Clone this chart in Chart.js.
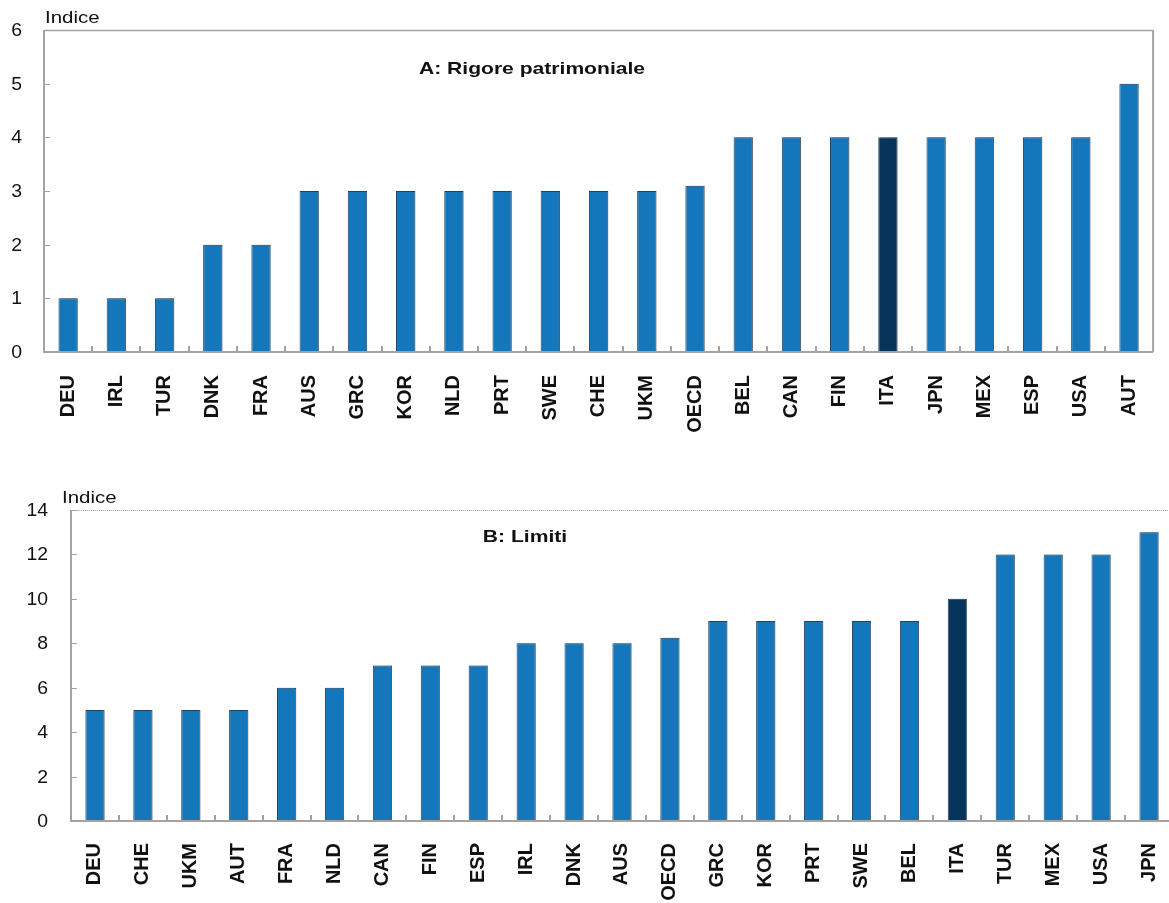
<!DOCTYPE html>
<html>
<head>
<meta charset="utf-8">
<script src="https://cdn.jsdelivr.net/npm/chart.js@4/dist/chart.umd.min.js"></script>
<style>
  html, body { margin: 0; padding: 0; background: #fff; overflow: hidden; }
  canvas { position: absolute; left: 0; }
  #chartA { top: 0; }
  #chartB { top: 470px; }
</style>
</head>
<body>
<canvas id="chartA" width="1168" height="440"></canvas>
<canvas id="chartB" width="1187" height="433"></canvas>
<script>
// Panel A: asset test strictness
const countriesA = ["DEU", "IRL", "TUR", "DNK", "FRA", "AUS", "GRC", "KOR", "NLD", "PRT", "SWE", "CHE",
  "UKM", "OECD", "BEL", "CAN", "FIN", "ITA", "JPN", "MEX", "ESP", "USA", "AUT"];
const valuesA = [1, 1, 1, 2, 2, 3, 3, 3, 3, 3, 3, 3, 3, 3.1, 4, 4, 4, 4, 4, 4, 4, 4, 5];
const ticksA = [0, 1, 2, 3, 4, 5, 6];

// Panel B: limits
const countriesB = ["DEU", "CHE", "UKM", "AUT", "FRA", "NLD", "CAN", "FIN", "ESP", "IRL", "DNK", "AUS",
  "OECD", "GRC", "KOR", "PRT", "SWE", "BEL", "ITA", "TUR", "MEX", "USA", "JPN"];
const valuesB = [5, 5, 5, 5, 6, 6, 7, 7, 7, 8, 8, 8, 8.25, 9, 9, 9, 9, 9, 10, 12, 12, 12, 13];
const ticksB = [0, 2, 4, 6, 8, 10, 12, 14];

const HIGHLIGHT = "ITA";
const BLUE = "#1477bb";
const DARK = "#07345a";
const AXIS = "#a3a3a3";
const FONT = "'Liberation Sans', Arial, Helvetica, sans-serif";

// text drawn a little wider than the font's natural width
function wideText(ctx, text, x, y, align, sx) {
  ctx.save();
  ctx.translate(x, y);
  ctx.scale(sx, 1);
  ctx.textAlign = align;
  ctx.fillText(text, 0, 0);
  ctx.restore();
}

// frame, inner tick marks, y labels, unit label and panel title
const framePlugin = {
  id: "frame",
  beforeDatasetsDraw(chart) {
    const ctx = chart.ctx;
    ctx.save();
    ctx.shadowColor = "rgba(120,120,120,0.55)";
    ctx.shadowOffsetX = 2;
    ctx.shadowOffsetY = 0;
    ctx.shadowBlur = 0;
  },
  afterDatasetsDraw(chart, _args, opts) {
    const { ctx, chartArea: a, scales: { x, y } } = chart;
    ctx.restore();
    ctx.save();
    ctx.strokeStyle = AXIS;

    // top border
    ctx.lineWidth = opts.dottedTop ? 1 : 1.5;
    if (opts.dottedTop) ctx.setLineDash([1, 1]);
    ctx.beginPath();
    ctx.moveTo(a.left, a.top + 0.5);
    ctx.lineTo(opts.dottedTop ? chart.width : a.right, a.top + 0.5);
    ctx.stroke();
    ctx.setLineDash([]);

    if (opts.rightBorder) {
      ctx.lineWidth = 2;
      ctx.beginPath();
      ctx.moveTo(a.right, a.top);
      ctx.lineTo(a.right, a.bottom);
      ctx.stroke();
    }

    // y tick marks pointing inward, with their labels
    ctx.lineWidth = 1;
    ctx.fillStyle = "#111";
    ctx.font = "18.5px " + FONT;
    ctx.textBaseline = "middle";
    for (const t of y.ticks) {
      const py = Math.round(y.getPixelForValue(t.value)) + 0.5;
      ctx.beginPath();
      ctx.moveTo(a.left, py);
      ctx.lineTo(a.left + 6, py);
      ctx.stroke();
      wideText(ctx, String(t.value), a.left - opts.labelGap, py, "right", 1.05);
    }

    // x tick marks between categories
    ctx.lineWidth = 2;
    const half = (x.getPixelForValue(1) - x.getPixelForValue(0)) / 2;
    for (let i = 1; i < x.ticks.length; i++) {
      const px = Math.round(x.getPixelForValue(i) - half);
      ctx.beginPath();
      ctx.moveTo(px, a.bottom);
      ctx.lineTo(px, a.bottom - 6);
      ctx.stroke();
    }

    // axis lines
    ctx.lineWidth = 2;
    ctx.beginPath();
    ctx.moveTo(a.left, a.top);
    ctx.lineTo(a.left, a.bottom);
    ctx.lineTo(a.right, a.bottom);
    ctx.stroke();

    // unit label
    ctx.font = "16.5px " + FONT;
    wideText(ctx, "Indice", a.left + opts.unitDx, a.top - 12, "left", 1.24);

    // panel title
    ctx.font = "bold 17px " + FONT;
    wideText(ctx, opts.title, a.left + a.width * opts.titleX, a.top + opts.titleDy, "center", 1.24);
    ctx.restore();
  },
};

function makePanel(id, labels, values, ticks, cfg) {
  return new Chart(document.getElementById(id), {
    type: "bar",
    data: {
      labels,
      datasets: [{
        data: values,
        backgroundColor: labels.map((c) => (c === HIGHLIGHT ? DARK : BLUE)),
        borderColor: "#1b4467",
        borderWidth: 1,
        borderSkipped: "bottom",
        categoryPercentage: 1,
        barPercentage: 0.4,
      }],
    },
    options: {
      responsive: false,
      animation: false,
      layout: { padding: { top: cfg.top, right: 0, left: 0, bottom: 0 } },
      plugins: {
        legend: { display: false },
        tooltip: { enabled: false },
        frame: cfg.frame,
      },
      scales: {
        x: {
          grid: { display: false },
          border: { display: false },
          ticks: {
            autoSkip: false,
            maxRotation: 90,
            minRotation: 90,
            padding: cfg.xPad,
            color: "#111",
            font: { family: FONT, size: 20, weight: "bold" },
          },
          afterFit: (s) => { s.height = cfg.xHeight; },
        },
        y: {
          min: 0,
          max: ticks[ticks.length - 1],
          grid: { display: false },
          border: { display: false },
          ticks: { display: false },
          afterBuildTicks: (s) => { s.ticks = ticks.map((v) => ({ value: v })); },
          afterFit: (s) => { s.width = cfg.yWidth; },
        },
      },
    },
    plugins: [framePlugin],
  });
}

makePanel("chartA", countriesA, valuesA, ticksA, {
  top: 30, xHeight: 88, yWidth: 44, xPad: 15,
  frame: { title: "A: Rigore patrimoniale", titleX: 0.44, titleDy: 39, unitDx: 1, labelGap: 22,
    rightBorder: true, dottedTop: false },
});

makePanel("chartB", countriesB, valuesB, ticksB, {
  top: 40, xHeight: 82, yWidth: 71, xPad: 14,
  frame: { title: "B: Limiti", titleX: 0.412, titleDy: 27, unitDx: -9, labelGap: 23,
    rightBorder: false, dottedTop: true },
});
</script>
</body>
</html>
